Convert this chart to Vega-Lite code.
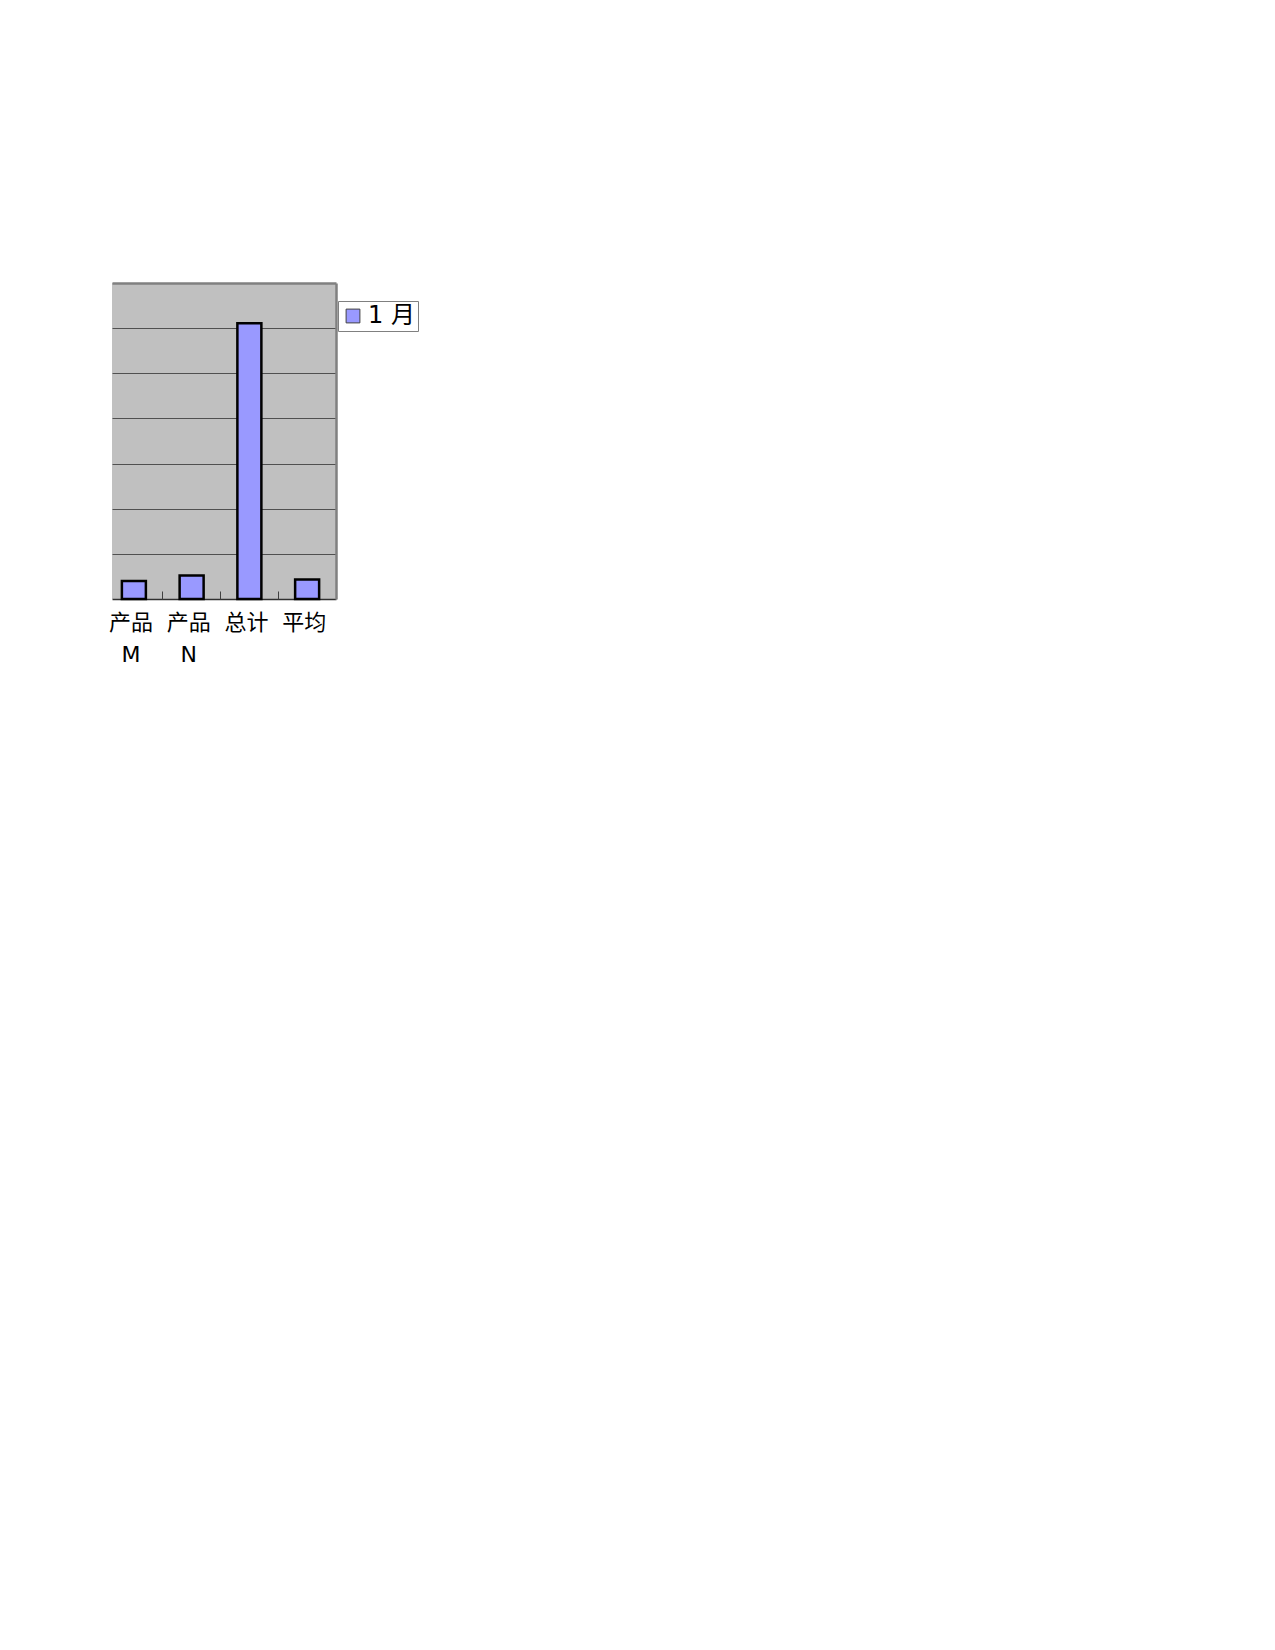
{
  "$schema": "https://vega.github.io/schema/vega-lite/v6.json",
  "autosize": "none",
  "padding": {"left": 112, "top": 283, "right": 200, "bottom": 200},
  "width": 224,
  "height": 316,
  "background": "white",
  "config": {
    "view": {"stroke": null, "fill": "#c0c0c0"},
    "font": "DejaVu Sans, Noto Sans CJK SC"
  },
  "data": {
    "values": [
      {"item": "产品M", "series": "1 月", "value": 4.0},
      {"item": "产品N", "series": "1 月", "value": 5.2},
      {"item": "总计", "series": "1 月", "value": 61.1},
      {"item": "平均", "series": "1 月", "value": 4.3}
    ]
  },
  "layer": [
    {
      "mark": {"type": "rule", "strokeOpacity": 0},
      "encoding": {
        "y": {
          "field": "value",
          "type": "quantitative",
          "scale": {"domain": [0, 70], "nice": false},
          "axis": {
            "title": null,
            "orient": "right",
            "labels": false,
            "ticks": false,
            "values": [0, 10, 20, 30, 40, 50, 60, 70],
            "domainColor": "#808080",
            "domainWidth": 2.5,
            "grid": true,
            "gridColor": {
              "condition": [
                {"test": "datum.value === 70", "value": "#808080"},
                {"test": "datum.value === 0", "value": "#303030"}
              ],
              "value": "#505050"
            },
            "gridWidth": {
              "condition": [
                {"test": "datum.value === 70", "value": 2.5},
                {"test": "datum.value === 0", "value": 1.5}
              ],
              "value": 1
            }
          }
        }
      }
    },
    {
      "mark": {"type": "bar", "stroke": "black", "strokeWidth": 2.5, "size": 24},
      "encoding": {
        "x": {
          "field": "item",
          "type": "nominal",
          "sort": null,
          "scale": {"range": [-7, 224], "paddingInner": 0, "paddingOuter": 0},
          "axis": {
            "title": null,
            "orient": "bottom",
            "labelAngle": 0,
            "labelFontSize": 22,
            "labelColor": "black",
            "labelLineHeight": 32,
            "labelPadding": 13,
            "labelOffset": -3,
            "labelExpr": "length(datum.label) > 2 ? [substring(datum.label, 0, 2), substring(datum.label, 2)] : datum.label",
            "ticks": false,
            "domain": false
          }
        },
        "y": {"field": "value", "type": "quantitative", "axis": null},
        "color": {
          "field": "series",
          "type": "nominal",
          "scale": {"range": ["#9999ff"]},
          "legend": {
            "title": null,
            "orient": "none",
            "legendX": 226,
            "legendY": 18,
            "symbolType": "square",
            "symbolSize": 190,
            "symbolStrokeColor": "#404040",
            "symbolStrokeWidth": 1,
            "symbolOpacity": 1,
            "labelFontSize": 24,
            "labelColor": "black",
            "labelOffset": 3,
            "strokeColor": "#808080",
            "fillColor": "white",
            "padding": 3
          }
        }
      }
    },
    {
      "mark": {"type": "bar", "opacity": 0},
      "encoding": {
        "x": {
          "field": "item",
          "type": "nominal",
          "sort": null,
          "scale": {"range": [-7, 224], "paddingInner": 0, "paddingOuter": 0},
          "axis": {
            "title": null,
            "orient": "bottom",
            "labels": false,
            "domain": false,
            "bandPosition": 0,
            "values": ["产品N", "总计", "平均"],
            "ticks": true,
            "tickSize": -8,
            "tickColor": "#404040",
            "tickWidth": 1
          }
        },
        "y": {"field": "value", "type": "quantitative", "axis": null}
      }
    }
  ],
  "resolve": {
    "scale": {"x": "independent"},
    "axis": {"x": "independent", "y": "independent"}
  }
}
